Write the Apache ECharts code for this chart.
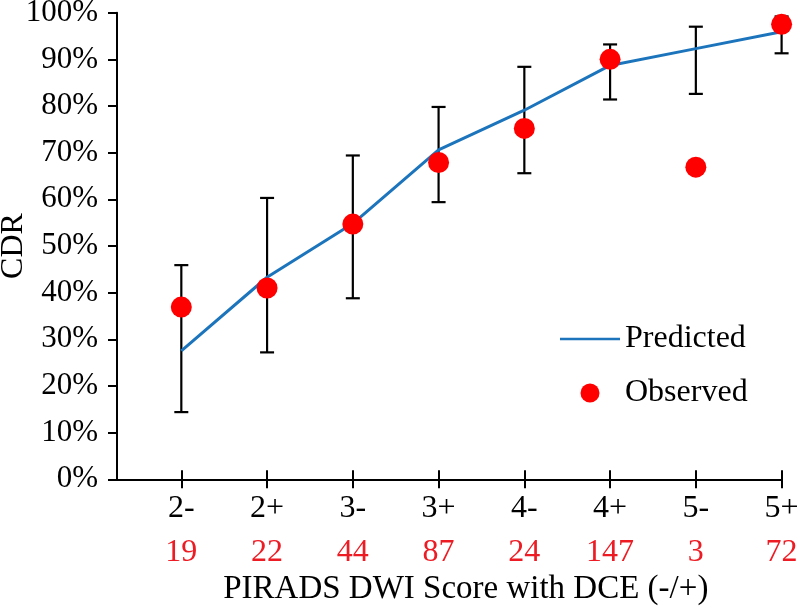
<!DOCTYPE html>
<html>
<head>
<meta charset="utf-8">
<script src="https://cdn.jsdelivr.net/npm/echarts@6/dist/echarts.min.js"></script>
<style>
html,body{margin:0;padding:0;background:#fff;}
#chart{width:800px;height:606px;}
</style>
</head>
<body>
<div id="chart"></div>
<script>
var categories = ['2-', '2+', '3-', '3+', '4-', '4+', '5-', '5+'];
var counts = [19, 22, 44, 87, 24, 147, 3, 72];
var predicted = [27.5, 43.3, 54.8, 70.6, 79.1, 88.7, 92.3, 95.9];
var observed = [36.9, 41.0, 54.7, 67.9, 75.2, 90.0, 66.9, 97.5];
var ciLow = [14.4, 27.2, 38.8, 59.4, 65.6, 81.4, 82.6, 91.3];
var ciHigh = [45.9, 60.3, 69.4, 79.8, 88.4, 93.2, 97.0, 99.2];
var yTicks = [0, 10, 20, 30, 40, 50, 60, 70, 80, 90, 100];

var FONT = "'Liberation Serif', 'Times New Roman', serif";
var positions = categories.map(function (c, i) { return i + 1; });

var lineData = predicted.map(function (v, i) { return [positions[i], v]; });
var dotData = observed.map(function (v, i) { return [positions[i], v]; });
var errData = ciLow.map(function (v, i) { return [positions[i], v, ciHigh[i]]; });

var chart = echarts.init(document.getElementById('chart'), null, {renderer: 'canvas'});

var xBase = {
  type: 'value',
  min: 0.25,
  max: 8,
  splitLine: {show: false}
};

var option = {
  backgroundColor: '#ffffff',
  animation: false,
  grid: {left: 117, right: 18.4, top: 12.7, bottom: 126.7, containLabel: false, outerBoundsMode: 'none'},
  legend: {
    orient: 'vertical',
    left: 555,
    top: 318,
    padding: 5,
    itemWidth: 60,
    itemHeight: 19,
    itemGap: 22,
    symbolKeepAspect: true,
    textStyle: {fontFamily: FONT, fontSize: 32, color: '#000', lineHeight: 32},
    data: [
      {name: 'Predicted', icon: 'path://M0,0L60,0L60,2.5L0,2.5Z', itemStyle: {color: '#1C75BC'}},
      {name: 'Observed', icon: 'circle', itemStyle: {color: '#FF0000'}}
    ]
  },
  xAxis: [
    Object.assign({}, xBase, {
      position: 'bottom',
      name: 'PIRADS DWI Score with DCE (-/+)',
      nameLocation: 'middle',
      nameGap: 92,
      nameTextStyle: {fontFamily: FONT, fontSize: 33, color: '#000', padding: [0, 0, 0, 33]},
      axisLine: {show: true, onZero: false, lineStyle: {color: '#000', width: 2}},
      axisTick: {show: true, inside: false, length: 9, lineStyle: {color: '#000', width: 2}, customValues: positions},
      axisLabel: {
        show: true,
        margin: 7,
        customValues: positions,
        formatter: function (v) {
          var i = Math.round(v) - 1;
          return '{a|' + categories[i] + '}\n{b|' + counts[i] + '}';
        },
        rich: {
          a: {fontFamily: FONT, fontSize: 32, color: '#000', lineHeight: 44},
          b: {fontFamily: FONT, fontSize: 32, color: '#ED1C24', lineHeight: 44}
        }
      }
    }),
    Object.assign({}, xBase, {
      position: 'bottom',
      axisLine: {show: false, onZero: false},
      axisTick: {show: true, inside: true, length: 9, lineStyle: {color: '#000', width: 2}, customValues: positions},
      axisLabel: {show: false}
    })
  ],
  yAxis: {
    type: 'value',
    min: 0,
    max: 100,
    interval: 10,
    name: 'CDR',
    nameLocation: 'middle',
    nameGap: 87,
    nameMoveOverlap: false,
    nameTextStyle: {fontFamily: FONT, fontSize: 32, color: '#000'},
    splitLine: {show: false},
    axisLine: {show: true, lineStyle: {color: '#000', width: 2}},
    axisTick: {show: true, inside: false, length: 9, lineStyle: {color: '#000', width: 2}},
    axisLabel: {
      margin: 19,
      fontFamily: FONT, fontSize: 31, color: '#000',
      formatter: function (v) { return v + '%'; }
    }
  },
  series: [
    {
      name: 'CI',
      type: 'custom',
      xAxisIndex: 0,
      data: errData,
      renderItem: function (params, api) {
        var x = api.value(0);
        var lo = api.coord([x, api.value(1)]);
        var hi = api.coord([x, api.value(2)]);
        var hw = 7;
        var st = {stroke: '#000', lineWidth: 2.2};
        return {
          type: 'group',
          children: [
            {type: 'line', shape: {x1: lo[0], y1: lo[1], x2: hi[0], y2: hi[1]}, style: st},
            {type: 'line', shape: {x1: lo[0] - hw, y1: lo[1], x2: lo[0] + hw, y2: lo[1]}, style: st},
            {type: 'line', shape: {x1: hi[0] - hw, y1: hi[1], x2: hi[0] + hw, y2: hi[1]}, style: st}
          ]
        };
      },
      z: 2
    },
    {
      name: 'Predicted',
      type: 'line',
      xAxisIndex: 0,
      data: lineData,
      symbol: 'none',
      color: '#1C75BC',
      lineStyle: {color: '#1C75BC', width: 3},
      itemStyle: {color: '#1C75BC'},
      z: 3
    },
    {
      name: 'Observed',
      type: 'scatter',
      xAxisIndex: 0,
      data: dotData,
      symbol: 'circle',
      symbolSize: 21,
      itemStyle: {color: '#FF0000', opacity: 1},
      z: 4
    }
  ]
};
chart.setOption(option);
</script>
</body>
</html>
